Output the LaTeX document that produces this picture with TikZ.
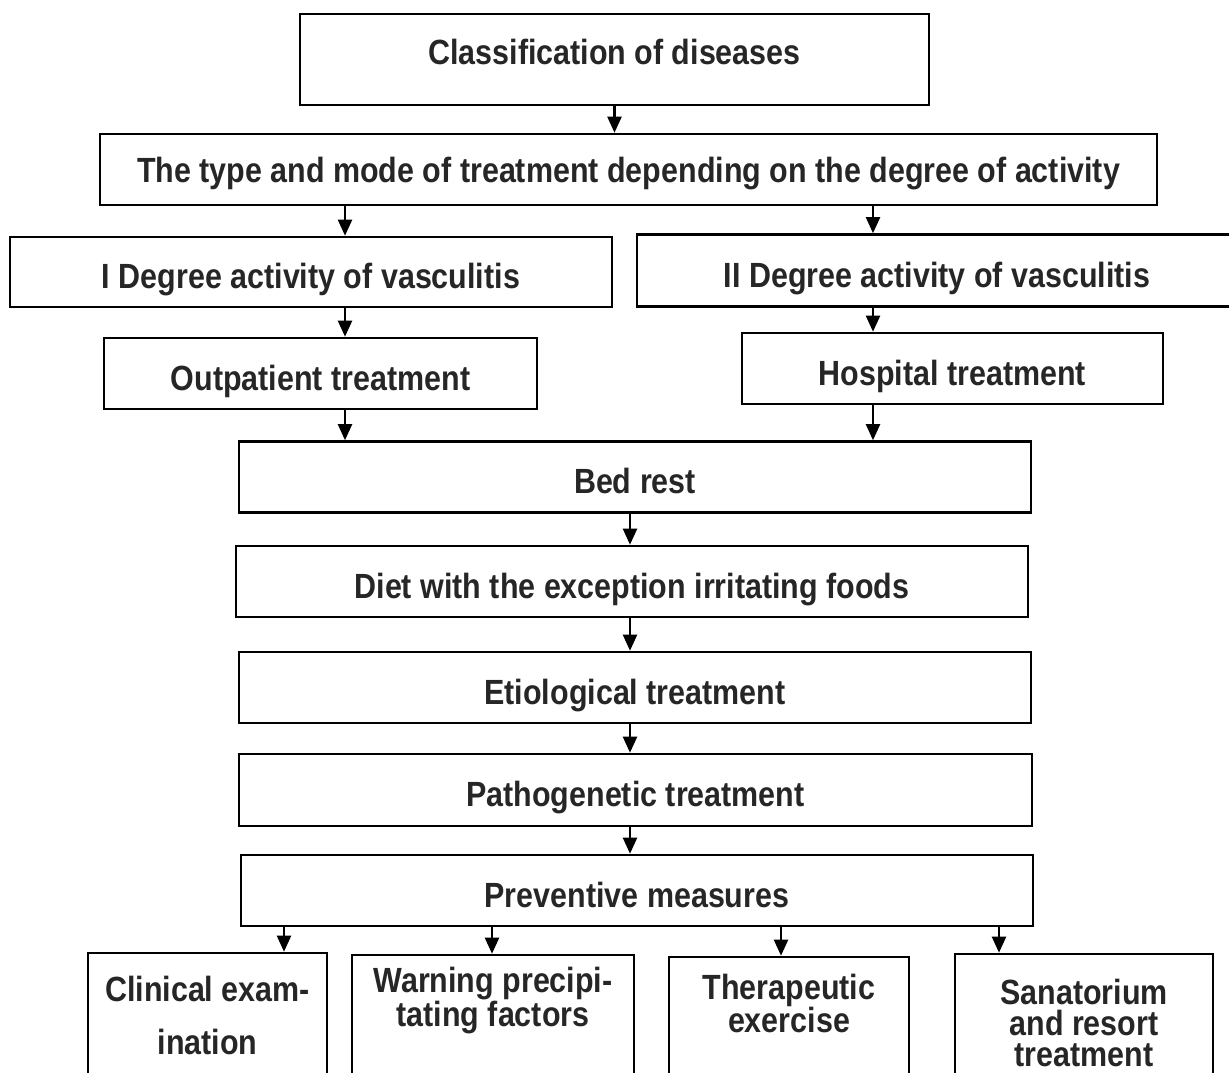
\documentclass[tikz,border=0pt]{standalone}
\usepackage{fontspec}
\newfontfamily\boxfont{Liberation Sans}[FakeStretch=0.87]
\usetikzlibrary{arrows.meta, positioning}

\begin{document}
\begin{tikzpicture}[x=1pt, y=-1pt,
  box/.style={rectangle, draw=black, line width=2.6pt, inner sep=0pt,
    text height=33pt, text depth=0pt,
    font=\boxfont\bfseries\fontsize{35}{42}\selectfont, text=black!85},
  txt/.style={inner sep=0pt, align=center, text=black!85},
  arr/.style={-{Triangle[width=14pt, length=16pt]}, line width=2.2pt},
]
  \useasboundingbox (0,0) rectangle (1229,1073);
  \clip (0,0) rectangle (1229,1073);

  \coordinate (lcol) at (345,0);
  \coordinate (rcol) at (873,0);
  \coordinate (mcol) at (630,0);
  \coordinate (col1) at (284,0);
  \coordinate (col2) at (492,0);
  \coordinate (col3) at (781,0);
  \coordinate (col4) at (999,0);

  \node[box, minimum width=629pt, minimum height=91pt, text depth=22pt] (classif) at (614.5,59.5)
    {Classification of diseases};
  \node[box, minimum width=1057pt, minimum height=71pt, text depth=8pt] (mode) at (628.5,169.5)
    {The type and mode of treatment depending on the degree of activity};
  \node[box, minimum width=602pt, minimum height=70pt] (deg1) at (311,272) {I Degree activity of vasculitis};
  \node[box, minimum width=600pt, minimum height=72pt] (deg2) at (937,270.5) {II Degree activity of vasculitis};
  \node[box, minimum width=433pt, minimum height=71pt] (outpat) at (320.5,373.5) {Outpatient treatment};
  \node[box, minimum width=421pt, minimum height=71pt] (hosp) at (952.5,368.5) {Hospital treatment};
  \node[box, minimum width=792pt, minimum height=71pt] (bedrest) at (635,477) {Bed rest};
  \node[box, minimum width=792pt, minimum height=71pt] (diet) at (632,581.5)
    {Diet with the exception irritating foods};
  \node[box, minimum width=792pt, minimum height=71pt] (etio) at (635,687.5) {Etiological treatment};
  \node[box, minimum width=793pt, minimum height=72pt] (patho) at (635.5,790) {Pathogenetic treatment};
  \node[box, minimum width=792pt, minimum height=71pt] (prevent) at (637,890.5) {Preventive measures};

  \node[box, minimum width=239pt, minimum height=160pt] (clin) at (207.5,1033) {};
  \node[box, minimum width=282pt, minimum height=160pt] (warn) at (493,1035) {};
  \node[box, minimum width=240pt, minimum height=160pt] (exer) at (789,1037) {};
  \node[box, minimum width=258pt, minimum height=160pt] (sanat) at (1084,1034) {};

  \node[txt, font=\boxfont\bfseries\fontsize{35}{53}\selectfont] at (clin.north) [below=24pt] (clintxt)
    {Clinical exam-\\ination};
  \node[txt, font=\boxfont\bfseries\fontsize{35}{28}\selectfont] at (warn.north) [below=13pt] (warntxt)
    {Warning precipi-\\tating factors};
  \node[txt, font=\boxfont\bfseries\fontsize{35}{28}\selectfont] at (exer.north) [below=18pt] (exertxt)
    {Therapeutic\\exercise};
  \node[txt, font=\boxfont\bfseries\fontsize{35}{31}\selectfont] at (sanat.north) [below=26pt] (sanattxt)
    {Sanatorium\\and resort\\treatment};

  \draw[arr] (classif.south) -- (mode.north -| classif.south);
  \draw[arr] (mode.south -| lcol) -- (deg1.north -| lcol);
  \draw[arr] (mode.south -| rcol) -- (deg2.north -| rcol);
  \draw[arr] (deg1.south -| lcol) -- (outpat.north -| lcol);
  \draw[arr] (deg2.south -| rcol) -- (hosp.north -| rcol);
  \draw[arr] (outpat.south -| lcol) -- (bedrest.north -| lcol);
  \draw[arr] (hosp.south -| rcol) -- (bedrest.north -| rcol);
  \draw[arr] (bedrest.south -| mcol) -- (diet.north -| mcol);
  \draw[arr] (diet.south -| mcol) -- (etio.north -| mcol);
  \draw[arr] (etio.south -| mcol) -- (patho.north -| mcol);
  \draw[arr] (patho.south -| mcol) -- (prevent.north -| mcol);
  \draw[arr] (prevent.south -| col1) -- (clin.north -| col1);
  \draw[arr] (prevent.south -| col2) -- (warn.north -| col2);
  \draw[arr] (prevent.south -| col3) -- (exer.north -| col3);
  \draw[arr] (prevent.south -| col4) -- (sanat.north -| col4);
\end{tikzpicture}
\end{document}
